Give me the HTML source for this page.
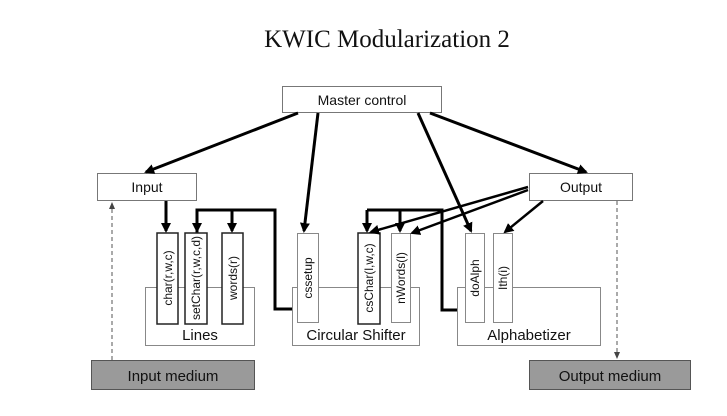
<!DOCTYPE html>
<html><head><meta charset="utf-8"><style>
html,body{margin:0;padding:0;background:#fff;}
svg{display:block;}
text{font-family:"Liberation Sans",Arial,sans-serif;fill:#111;}
</style></head><body>
<svg width="727" height="416" viewBox="0 0 727 416" xmlns="http://www.w3.org/2000/svg">
<defs>
<marker id="a" markerWidth="10" markerHeight="10" refX="8" refY="5" orient="auto" markerUnits="userSpaceOnUse">
<path d="M0,0 L10,5 L0,10 z" fill="#000"/></marker>
<marker id="s" markerWidth="8" markerHeight="8" refX="6" refY="4" orient="auto" markerUnits="userSpaceOnUse">
<path d="M0,1 L7,4 L0,7 z" fill="#444"/></marker>
</defs>
<text x="387" y="47" text-anchor="middle" style="font-family:'Liberation Serif',serif;font-size:25px">KWIC Modularization 2</text>

<!-- containers -->
<rect x="145.5" y="287.5" width="109" height="58" fill="#fff" stroke="#888"/>
<text x="200" y="340" text-anchor="middle" font-size="15">Lines</text>
<rect x="292.5" y="287.5" width="127" height="58" fill="#fff" stroke="#888"/>
<text x="356" y="340" text-anchor="middle" font-size="15">Circular Shifter</text>
<rect x="457.5" y="287.5" width="143" height="58" fill="#fff" stroke="#888"/>
<text x="529" y="340" text-anchor="middle" font-size="15">Alphabetizer</text>

<!-- buses -->
<polyline points="197,233 197,210 275,210 275,309 292,309" fill="none" stroke="#000" stroke-width="3" marker-start="none"/>
<line x1="232" y1="210" x2="232" y2="231" stroke="#000" stroke-width="3" marker-end="url(#a)"/>
<line x1="197" y1="210" x2="197" y2="231" stroke="#000" stroke-width="3" marker-end="url(#a)"/>
<polyline points="367,210 442,210 442,310 457,310" fill="none" stroke="#000" stroke-width="3"/>
<line x1="367" y1="210" x2="367" y2="231" stroke="#000" stroke-width="3" marker-end="url(#a)"/>
<line x1="400" y1="210" x2="400" y2="231" stroke="#000" stroke-width="3" marker-end="url(#a)"/>
<line x1="166" y1="200" x2="166" y2="231" stroke="#000" stroke-width="3" marker-end="url(#a)"/>

<!-- method boxes -->
<g fill="#fff" stroke="#222" stroke-width="1.5">
<rect x="157" y="233" width="21" height="91"/>
<rect x="185" y="233" width="22" height="91"/>
<rect x="222" y="233" width="21" height="91"/>
<rect x="358" y="233" width="22" height="91"/>
</g>
<g fill="#fff" stroke="#888">
<rect x="297.5" y="233.5" width="21" height="89"/>
<rect x="391.5" y="233.5" width="19" height="89"/>
<rect x="465.5" y="233.5" width="19" height="89"/>
<rect x="493.5" y="233.5" width="19" height="89"/>
</g>
<g font-size="12">
<text transform="translate(172,278) rotate(-90)" text-anchor="middle">char(r,w,c)</text>
<text transform="translate(200,278) rotate(-90)" text-anchor="middle">setChar(r,w,c,d)</text>
<text transform="translate(237,278) rotate(-90)" text-anchor="middle">words(r)</text>
<text transform="translate(312,278) rotate(-90)" text-anchor="middle">cssetup</text>
<text transform="translate(373,278) rotate(-90)" text-anchor="middle">csChar(l,w,c)</text>
<text transform="translate(405,278) rotate(-90)" text-anchor="middle">nWords(l)</text>
<text transform="translate(479,278) rotate(-90)" text-anchor="middle">doAlph</text>
<text transform="translate(507,278) rotate(-90)" text-anchor="middle">Ith(i)</text>
</g>

<!-- top boxes -->
<rect x="282.5" y="86.5" width="159" height="26" fill="#fff" stroke="#777"/>
<text x="362" y="105" text-anchor="middle" font-size="14">Master control</text>
<rect x="97.5" y="173.5" width="99" height="27" fill="#fff" stroke="#777"/>
<text x="147" y="192" text-anchor="middle" font-size="14">Input</text>
<rect x="529.5" y="173.5" width="103" height="27" fill="#fff" stroke="#777"/>
<text x="581" y="192" text-anchor="middle" font-size="14">Output</text>

<!-- master arrows -->
<g stroke="#000" stroke-width="3" fill="none">
<line x1="298" y1="113" x2="146" y2="172" marker-end="url(#a)"/>
<line x1="318" y1="113" x2="304" y2="231" marker-end="url(#a)"/>
<line x1="418" y1="113" x2="471" y2="231" marker-end="url(#a)"/>
<line x1="430" y1="113" x2="586" y2="172" marker-end="url(#a)"/>
<line x1="528" y1="187" x2="371" y2="232" stroke-width="2.5" marker-end="url(#a)"/>
<line x1="528" y1="190" x2="412" y2="233" stroke-width="2.5" marker-end="url(#a)"/>
<line x1="543" y1="201" x2="505" y2="232" stroke-width="2.5" marker-end="url(#a)"/>
</g>

<!-- dashed -->
<line x1="112" y1="360" x2="112" y2="203" stroke="#555" stroke-dasharray="4,3" marker-end="url(#s)"/>
<line x1="617" y1="201" x2="617" y2="358" stroke="#555" stroke-dasharray="4,3" marker-end="url(#s)"/>

<!-- mediums -->
<rect x="91.5" y="360.5" width="163" height="29" fill="#9a9a9a" stroke="#555"/>
<text x="173" y="381" text-anchor="middle" font-size="15">Input medium</text>
<rect x="529.5" y="360.5" width="161" height="29" fill="#9a9a9a" stroke="#555"/>
<text x="610" y="381" text-anchor="middle" font-size="15">Output medium</text>
</svg>
</body></html>
